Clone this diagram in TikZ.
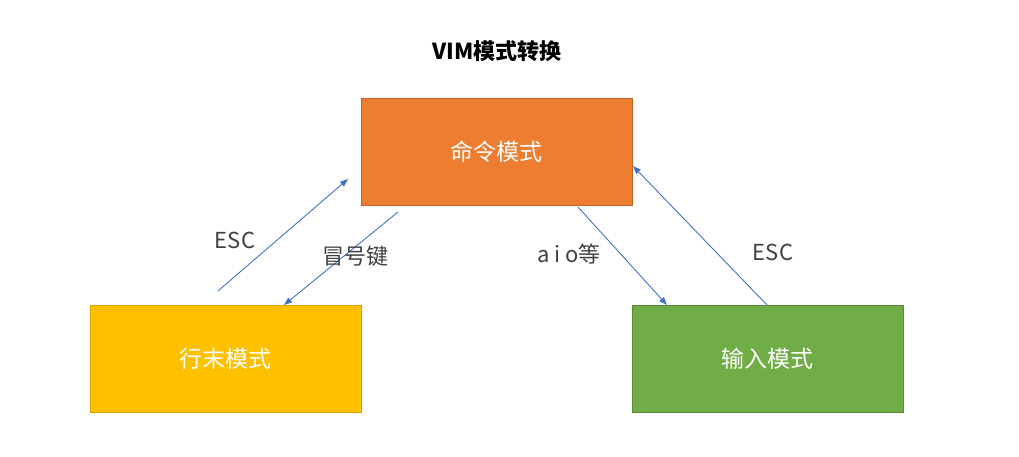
\documentclass[tikz,border=0pt]{standalone}
\usepackage{fontspec}
\setmainfont{Noto Sans CJK SC}
\usetikzlibrary{positioning, arrows.meta}
\definecolor{cmdorange}{HTML}{ED7D31}
\definecolor{lineyellow}{HTML}{FFC000}
\definecolor{insgreen}{HTML}{70AD47}
\definecolor{arrowblue}{HTML}{4472C4}
\definecolor{labelgray}{HTML}{404040}
\begin{document}
\begin{tikzpicture}
          [x=1pt, y=-1pt,
           modebox/.style={minimum width=271pt, minimum height=107pt, inner sep=0pt,
             text=white, font=\fontsize{23}{26}\selectfont, line width=0.8pt},
           trans/.style={-{Triangle[length=8pt, width=6pt]}, arrowblue, line width=0.9pt},
           translabel/.style={text=labelgray, font=\fontsize{22}{25}\selectfont, inner sep=0pt}]
            \useasboundingbox (0,0) rectangle (1019,457);
            \node (Title) at (497,51) [font=\bfseries\fontsize{22}{25}\selectfont]{VIM模式转换};
            \node (Cmd) at (496.5,152) [modebox, fill=cmdorange, draw=cmdorange!80!black]{命令模式};
            \node (Last) at (225.5,359) [modebox, fill=lineyellow, draw=lineyellow!85!black]{行末模式};
            \node (Ins) at (767.5,359) [modebox, fill=insgreen, draw=insgreen!80!black]{输入模式};
            % free ends of the connectors
            \coordinate (EscLfrom) at (218,291);
            \coordinate (EscLto) at (348,179);
            \coordinate (Colfrom) at (398,212);
            \coordinate (Colto) at (284,305);
            \coordinate (Aiofrom) at (578,207);
            \coordinate (Aioto) at (667,305);
            \coordinate (EscRfrom) at (767,305);
            \coordinate (EscRto) at (633,166);
            \draw [trans] (EscLfrom) -- (EscLto);
            \draw [trans] (Colfrom) -- (Colto);
            \draw [trans] (Aiofrom) -- (Aioto);
            \draw [trans] (EscRfrom) -- (EscRto);
            \node (EscL) at (235,240) [translabel]{ESC};
            \node (Col) at (355,256) [translabel]{冒号键};
            \node (Aio) at (569,254) [translabel]{a i o等};
            \node (EscR) at (773,252) [translabel]{ESC};
        \end{tikzpicture}
\end{document}
